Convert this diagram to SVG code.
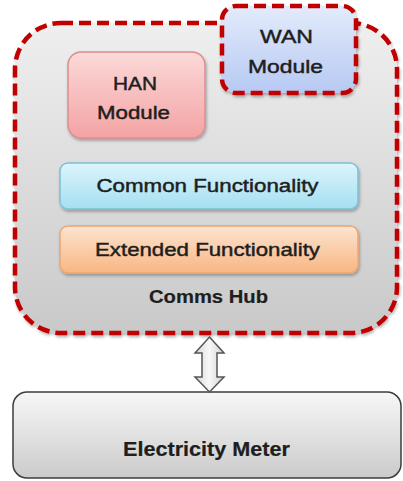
<svg xmlns="http://www.w3.org/2000/svg" width="403" height="481" viewBox="0 0 403 481">
  <defs>
    <linearGradient id="gHub" x1="0" y1="0" x2="0" y2="1">
      <stop offset="0" stop-color="#efefef"/>
      <stop offset="1" stop-color="#c9c9c9"/>
    </linearGradient>
    <linearGradient id="gHan" x1="0" y1="0" x2="0" y2="1">
      <stop offset="0" stop-color="#fcd9d9"/>
      <stop offset="1" stop-color="#f3a3a3"/>
    </linearGradient>
    <linearGradient id="gWan" x1="0" y1="0" x2="0" y2="1">
      <stop offset="0" stop-color="#e3ebfb"/>
      <stop offset="1" stop-color="#b7c9f3"/>
    </linearGradient>
    <linearGradient id="gCommon" x1="0" y1="0" x2="0" y2="1">
      <stop offset="0" stop-color="#dcf5fc"/>
      <stop offset="1" stop-color="#a5dff1"/>
    </linearGradient>
    <linearGradient id="gExt" x1="0" y1="0" x2="0" y2="1">
      <stop offset="0" stop-color="#fde4d0"/>
      <stop offset="1" stop-color="#f8b683"/>
    </linearGradient>
    <linearGradient id="gMeter" x1="0" y1="0" x2="0" y2="1">
      <stop offset="0" stop-color="#f7f7f7"/>
      <stop offset="1" stop-color="#cbcbcb"/>
    </linearGradient>
    <linearGradient id="gArrow" x1="0" y1="0" x2="1" y2="0">
      <stop offset="0" stop-color="#d8d8d8"/>
      <stop offset="0.5" stop-color="#f7f7f7"/>
      <stop offset="1" stop-color="#d0d0d0"/>
    </linearGradient>
    <filter id="shadow" x="-10%" y="-10%" width="120%" height="130%">
      <feDropShadow dx="1" dy="2" stdDeviation="1.5" flood-color="#000" flood-opacity="0.3"/>
    </filter>
  </defs>
  <style>
    .dashed { stroke: #c00000; stroke-width: 4.5; stroke-dasharray: 12 6; stroke-linecap: butt; }
    .lbl { font-family: "Liberation Sans", Arial, sans-serif; fill: #1e1e1e; stroke: #1e1e1e; stroke-width: 0.45; text-anchor: middle; }
    .bold { font-weight: bold; stroke-width: 0.2; }
  </style>

  <!-- Comms Hub container -->
  <g id="comms-hub">
    <rect x="15" y="23" width="382" height="310" rx="46" fill="url(#gHub)" class="dashed" filter="url(#shadow)"/>
    <text class="lbl bold" x="208.5" y="303" font-size="19" textLength="119" lengthAdjust="spacingAndGlyphs">Comms Hub</text>
  </g>

  <!-- HAN module -->
  <g id="han-module">
    <rect x="68" y="52" width="137" height="86" rx="13" fill="url(#gHan)" stroke="#dc8e8e" stroke-width="1.5" filter="url(#shadow)"/>
    <text class="lbl" x="135" y="90" font-size="18" textLength="44" lengthAdjust="spacingAndGlyphs">HAN</text>
    <text class="lbl" x="133.5" y="119" font-size="18" textLength="73" lengthAdjust="spacingAndGlyphs">Module</text>
  </g>

  <!-- WAN module -->
  <g id="wan-module">
    <rect x="222" y="6" width="134" height="87" rx="14" fill="url(#gWan)" class="dashed" filter="url(#shadow)"/>
    <text class="lbl" x="286.5" y="43" font-size="18" textLength="53" lengthAdjust="spacingAndGlyphs">WAN</text>
    <text class="lbl" x="285.5" y="73" font-size="18" textLength="75" lengthAdjust="spacingAndGlyphs">Module</text>
  </g>

  <!-- Common functionality layer -->
  <g id="common-functionality">
    <rect x="60" y="163" width="298" height="46" rx="8" fill="url(#gCommon)" stroke="#7fbfd4" stroke-width="1.5" filter="url(#shadow)"/>
    <text class="lbl" x="207.5" y="192" font-size="18" textLength="222" lengthAdjust="spacingAndGlyphs">Common Functionality</text>
  </g>

  <!-- Extended functionality layer -->
  <g id="extended-functionality">
    <rect x="60" y="226" width="298" height="47" rx="8" fill="url(#gExt)" stroke="#eba674" stroke-width="1.5" filter="url(#shadow)"/>
    <text class="lbl" x="207.5" y="256" font-size="19" textLength="225" lengthAdjust="spacingAndGlyphs">Extended Functionality</text>
  </g>

  <!-- Electricity meter -->
  <g id="electricity-meter">
    <rect x="13" y="392" width="388" height="86" rx="14" fill="url(#gMeter)" stroke="#3c3c3c" stroke-width="1.5"/>
    <text class="lbl bold" x="206.5" y="456" font-size="20" textLength="167" lengthAdjust="spacingAndGlyphs">Electricity Meter</text>
  </g>

  <!-- Connectors -->
  <g id="connectors">
    <path d="M209.5,337 L224,353 L217,353 L217,377 L224,377 L209.5,392 L195,377 L202,377 L202,353 L195,353 Z" fill="url(#gArrow)" stroke="#555" stroke-width="1.5" stroke-linejoin="miter"/>
  </g>
</svg>
